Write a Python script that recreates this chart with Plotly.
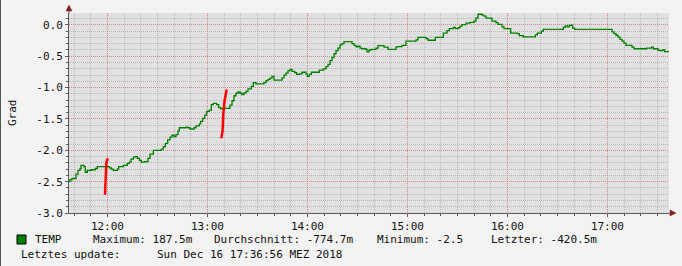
import plotly.graph_objects as go

DATE = "2018-12-16 "

# TEMP series (step line), clock times and values in Grad
temp_times = [
    "11:36:56", "11:37:32", "11:38:44", "11:41:08", "11:42:20", "11:43:32", "11:44:08",
    "11:45:56", "11:46:44", "11:47:56", "11:50:20", "11:52:44", "11:53:56", "12:01:08",
    "12:02:20", "12:03:32", "12:05:56", "12:06:44", "12:09:32", "12:11:56", "12:13:08",
    "12:14:08", "12:15:32", "12:16:44", "12:17:56", "12:19:08", "12:20:20", "12:22:20",
    "12:24:20", "12:25:32", "12:27:32", "12:32:20", "12:33:32", "12:34:44", "12:36:08",
    "12:37:32", "12:38:44", "12:39:56", "12:41:08", "12:42:20", "12:43:08", "12:47:08",
    "12:48:20", "12:49:32", "12:51:56", "12:53:08", "12:55:08", "12:55:56", "12:57:08",
    "12:58:20", "12:59:32", "13:01:08", "13:02:20", "13:03:32", "13:05:32", "13:06:44",
    "13:07:56", "13:09:08", "13:13:32", "13:14:44", "13:15:56", "13:17:08", "13:18:20",
    "13:19:32", "13:20:44", "13:21:56", "13:23:08", "13:24:20", "13:26:20", "13:27:32",
    "13:29:08", "13:33:56", "13:35:08", "13:36:20", "13:37:32", "13:38:44", "13:39:56",
    "13:44:44", "13:45:56", "13:47:08", "13:48:20", "13:49:32", "13:50:44", "13:52:20",
    "13:53:32", "13:55:08", "13:56:44", "13:59:08", "13:59:56", "14:01:08", "14:02:20",
    "14:07:08", "14:09:32", "14:11:08", "14:12:20", "14:13:32", "14:14:44", "14:15:56",
    "14:17:08", "14:18:20", "14:19:32", "14:20:44", "14:21:56", "14:26:44", "14:27:56",
    "14:29:08", "14:30:20", "14:31:32", "14:32:44", "14:35:08", "14:35:44", "14:36:56",
    "14:38:08", "14:41:08", "14:42:20", "14:45:56", "14:48:20", "14:53:08", "14:54:20",
    "14:56:44", "14:59:08", "15:05:08", "15:06:20", "15:11:08", "15:12:20", "15:16:44",
    "15:21:32", "15:23:44", "15:25:08", "15:27:32", "15:28:44", "15:30:20", "15:31:32",
    "15:32:44", "15:35:08", "15:37:32", "15:39:56", "15:41:08", "15:42:20", "15:44:44",
    "15:45:56", "15:47:08", "15:50:44", "15:53:08", "15:54:20", "15:56:44", "15:57:56",
    "16:01:56", "16:05:56", "16:07:08", "16:09:32", "16:16:44", "16:17:56", "16:20:20",
    "16:21:32", "16:33:32", "16:34:44", "16:35:56", "16:37:08", "16:39:08", "16:40:20",
    "17:02:44", "17:03:56", "17:05:08", "17:06:20", "17:07:32", "17:08:44", "17:09:56",
    "17:11:08", "17:14:44", "17:15:56", "17:23:32", "17:26:20", "17:27:32", "17:30:20",
    "17:31:32", "17:33:08", "17:34:20", "17:36:56",
]
temp_values = [
    -2.50, -2.47, -2.45, -2.38, -2.32, -2.29, -2.24,
    -2.26, -2.35, -2.32, -2.31, -2.29, -2.26, -2.28,
    -2.30, -2.32, -2.30, -2.26, -2.24, -2.21, -2.19,
    -2.14, -2.11, -2.10, -2.13, -2.16, -2.19, -2.18,
    -2.13, -2.06, -2.00, -1.98, -1.94, -1.89, -1.835,
    -1.79, -1.76, -1.78, -1.75, -1.69, -1.64, -1.63,
    -1.64, -1.66, -1.64, -1.61, -1.58, -1.54, -1.49,
    -1.44, -1.38, -1.36, -1.27, -1.25, -1.27, -1.32,
    -1.34, -1.33, -1.28, -1.21, -1.13, -1.09, -1.07,
    -1.09, -1.11, -1.085, -1.06, -1.02, -0.98, -0.92,
    -0.94, -0.92, -0.89, -0.87, -0.85, -0.82, -0.88,
    -0.845, -0.80, -0.77, -0.73, -0.71, -0.74, -0.76,
    -0.79, -0.78, -0.755, -0.78, -0.82, -0.79, -0.755,
    -0.72, -0.70, -0.665, -0.63, -0.57, -0.52, -0.46,
    -0.41, -0.37, -0.32, -0.30, -0.265, -0.30, -0.325,
    -0.35, -0.34, -0.37, -0.38, -0.39, -0.43, -0.40,
    -0.39, -0.37, -0.33, -0.355, -0.39, -0.35, -0.345,
    -0.325, -0.26, -0.24, -0.20, -0.22, -0.245, -0.20,
    -0.13, -0.09, -0.06, -0.04, -0.06, -0.045, -0.02,
    0.005, 0.03, 0.04, 0.06, 0.11, 0.17, 0.155,
    0.14, 0.107, 0.06, 0.037, 0.01, -0.03, -0.06,
    -0.13, -0.14, -0.17, -0.19, -0.16, -0.13, -0.10,
    -0.07, -0.04, -0.015, -0.03, -0.005, -0.05, -0.07,
    -0.11, -0.14, -0.165, -0.195, -0.23, -0.26, -0.29,
    -0.325, -0.355, -0.38, -0.37, -0.355, -0.38, -0.405,
    -0.41, -0.40, -0.425, -0.425,
]

# red marks
red1_times = ["11:58:32", "11:58:50", "11:59:20", "12:00:10"]
red1_values = [-2.71, -2.28, -2.20, -2.13]
red2_times = ["13:08:20", "13:09:08", "13:09:32", "13:10:20", "13:11:32"]
red2_values = [-1.81, -1.675, -1.41, -1.20, -1.03]

x_start = "11:36:56"
x_end = "17:36:56"
y_min, y_max = -3.0, 0.19
ytick_vals = [0.0, -0.5, -1.0, -1.5, -2.0, -2.5, -3.0]
ytick_labels = ["0.0", "-0.5", "-1.0", "-1.5", "-2.0", "-2.5", "-3.0"]
xtick_times = ["12:00", "13:00", "14:00", "15:00", "16:00", "17:00"]

legend_name = "TEMP"
stats = ["Maximum: 187.5m", "Durchschnitt: -774.7m", "Minimum: -2.5", "Letzter: -420.5m"]
update_label = "Letztes update:"
update_text = "Sun Dec 16 17:36:56 MEZ 2018"

W, H = 682, 266
L, R, T, B = 69, 13, 13, 53
PW, PH = W - L - R, H - T - B


def px(xp):
    return (xp - L) / PW


def py(yp):
    return (H - B - yp) / PH


MONO = "DejaVu Sans Mono"
GREEN = "#007F00"

fig = go.Figure()
fig.add_trace(go.Scatter(
    x=[DATE + t for t in temp_times], y=temp_values, mode="lines",
    line=dict(color=GREEN, width=1.3, shape="hv"), showlegend=False, hoverinfo="skip"))
for tt, vv in ((red1_times, red1_values), (red2_times, red2_values)):
    fig.add_trace(go.Scatter(
        x=[DATE + t for t in tt], y=vv, mode="lines",
        line=dict(color="#FF0000", width=2.5), showlegend=False, hoverinfo="skip"))

minor_grid = "rgba(140,140,140,0.45)"
major_grid = "rgba(230,100,100,0.55)"
axis_col = "#5a5a5a"

fig.update_layout(
    width=W, height=H, margin=dict(l=L, r=R, t=T, b=B, autoexpand=False),
    paper_bgcolor="#F3F3F3", plot_bgcolor="#E0E0E0",
    font=dict(family=MONO, size=11, color="#111"),
    xaxis=dict(
        type="date", range=[DATE + x_start, DATE + x_end],
        tickmode="array", tickvals=[DATE + t for t in xtick_times], ticktext=xtick_times,
        showgrid=True, gridcolor=major_grid, griddash="1px,1px", gridwidth=1,
        ticks="outside", ticklen=3, tickcolor=axis_col,
        showline=True, linecolor=axis_col, linewidth=1, zeroline=False,
        minor=dict(tickmode="linear", tick0=DATE + "12:00", dtick=600000, showgrid=True,
                   gridcolor=minor_grid, griddash="1px,1px", gridwidth=1,
                   ticks="outside", ticklen=2, tickcolor=axis_col),
        tickfont=dict(family=MONO, size=11, color="#111"),
    ),
    yaxis=dict(
        range=[y_min, y_max], tickmode="array", tickvals=ytick_vals, ticktext=ytick_labels,
        showgrid=True, gridcolor=major_grid, griddash="1px,1px", gridwidth=1,
        ticks="outside", ticklen=3, tickcolor=axis_col,
        showline=True, linecolor=axis_col, linewidth=1, zeroline=False,
        minor=dict(tickmode="linear", tick0=0, dtick=0.1, showgrid=True,
                   gridcolor=minor_grid, griddash="1px,1px", gridwidth=1,
                   ticks="outside", ticklen=2, tickcolor=axis_col),
        tickfont=dict(family=MONO, size=11, color="#111"),
    ),
)

shapes = []
# axis extensions and arrows
shapes.append(dict(type="line", xref="paper", yref="paper", x0=0, x1=0, y0=1, y1=py(8),
                   line=dict(color=axis_col, width=1)))
shapes.append(dict(type="line", xref="paper", yref="paper", x0=1, x1=px(672), y0=0, y1=0,
                   line=dict(color=axis_col, width=1)))
shapes.append(dict(type="path", xref="paper", yref="paper",
                   path=f"M {px(66)} {py(11)} L {px(72)} {py(11)} L {px(69)} {py(5)} Z",
                   fillcolor="#7F1F1F", line=dict(color="#7F1F1F", width=0.5)))
shapes.append(dict(type="path", xref="paper", yref="paper",
                   path=f"M {px(670)} {py(210)} L {px(670)} {py(216)} L {px(676)} {py(213)} Z",
                   fillcolor="#7F1F1F", line=dict(color="#7F1F1F", width=0.5)))
# legend square
shapes.append(dict(type="rect", xref="paper", yref="paper",
                   x0=px(17), x1=px(26), y0=py(244), y1=py(235),
                   fillcolor=GREEN, line=dict(color="#000", width=1)))
# left border
shapes.append(dict(type="line", xref="paper", yref="paper", x0=px(0.5), x1=px(0.5),
                   y0=py(H), y1=py(0), line=dict(color="#4f5a50", width=1)))
fig.update_layout(shapes=shapes)

ann = []
ann.append(dict(text="Grad", xref="paper", yref="paper", x=px(12), y=py(113),
                textangle=-90, showarrow=False, xanchor="center", yanchor="middle",
                font=dict(family=MONO, size=11, color="#111")))
line1 = [(32.7, legend_name), (90.7, stats[0]), (211.5, stats[1]), (374.7, stats[2]), (489.3, stats[3])]
for xp, txt in line1:
    ann.append(dict(text=txt, xref="paper", yref="paper", x=px(xp), y=py(239.5),
                    showarrow=False, xanchor="left", yanchor="middle",
                    font=dict(family=MONO, size=11, color="#111")))
for xp, txt in ((19, update_label), (154.7, update_text)):
    ann.append(dict(text=txt, xref="paper", yref="paper", x=px(xp), y=py(254),
                    showarrow=False, xanchor="left", yanchor="middle",
                    font=dict(family=MONO, size=11, color="#111")))
fig.update_layout(annotations=ann)

fig.write_html("out.html")
